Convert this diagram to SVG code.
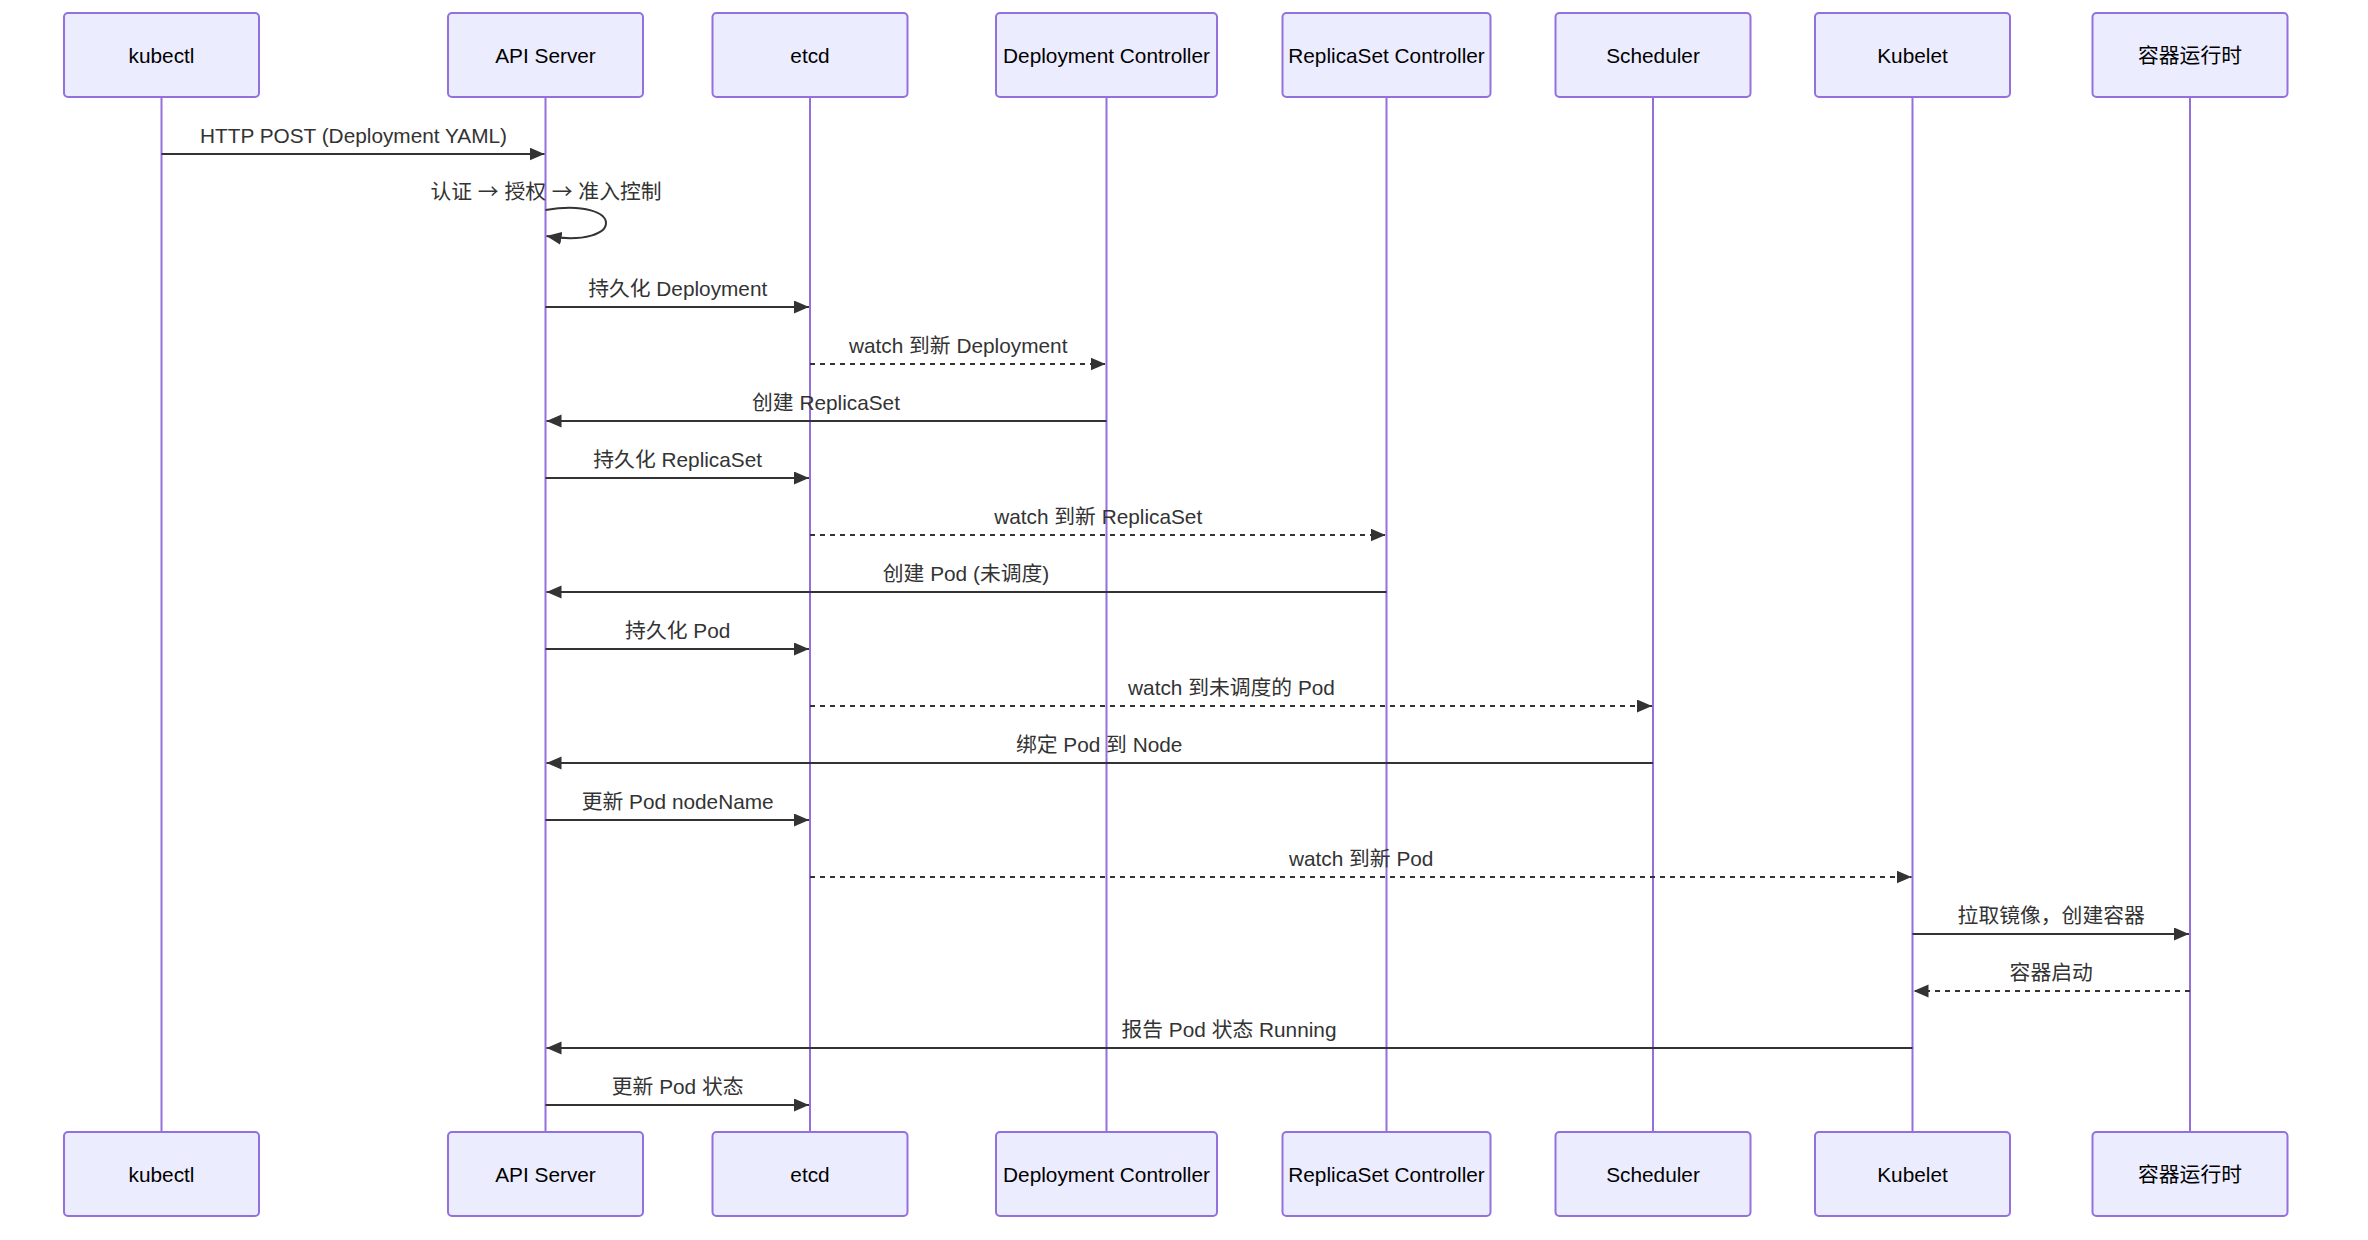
<svg xmlns="http://www.w3.org/2000/svg" width="2368" height="1240" viewBox="0 0 2368 1240">
<style>
.actor{fill:#ECECFF;stroke:#9370DB;stroke-width:2}
.atext{font-family:"Liberation Sans","Noto Sans CJK SC",sans-serif;font-size:20.8px;fill:#000;text-anchor:middle;dominant-baseline:central}
.life{stroke:#9370DB;stroke-width:2}
.msg{stroke:#333;stroke-width:2;fill:none;marker-end:url(#arrow)}
.dash{stroke-dasharray:5 5}
.mtext{font-family:"Liberation Sans","Noto Sans CJK SC",sans-serif;font-size:20.8px;fill:#333;text-anchor:middle}
.cjk{font-family:"Noto Sans CJK SC",sans-serif}
</style>
<defs>
<marker id="arrow" markerUnits="userSpaceOnUse" markerWidth="16" markerHeight="14" refX="15" refY="6.5" orient="auto">
<path d="M0,0 L15,6.5 L0,13 z" fill="#333"/>
</marker>
</defs>
<rect width="2368" height="1240" fill="#fff"/>
<g id="lifelines">
<line class="life" x1="161.5" y1="97" x2="161.5" y2="1132"/>
<line class="life" x1="545.5" y1="97" x2="545.5" y2="1132"/>
<line class="life" x1="810" y1="97" x2="810" y2="1132"/>
<line class="life" x1="1106.5" y1="97" x2="1106.5" y2="1132"/>
<line class="life" x1="1386.5" y1="97" x2="1386.5" y2="1132"/>
<line class="life" x1="1653" y1="97" x2="1653" y2="1132"/>
<line class="life" x1="1912.5" y1="97" x2="1912.5" y2="1132"/>
<line class="life" x1="2190" y1="97" x2="2190" y2="1132"/>
</g>
<g id="kubectl">
<rect class="actor" x="64" y="13" width="195" height="84" rx="4"/><text class="atext" x="161.5" y="55">kubectl</text>
<rect class="actor" x="64" y="1132" width="195" height="84" rx="4"/><text class="atext" x="161.5" y="1174">kubectl</text>
</g>
<g id="apiserver">
<rect class="actor" x="448" y="13" width="195" height="84" rx="4"/><text class="atext" x="545.5" y="55">API Server</text>
<rect class="actor" x="448" y="1132" width="195" height="84" rx="4"/><text class="atext" x="545.5" y="1174">API Server</text>
</g>
<g id="etcd">
<rect class="actor" x="712.5" y="13" width="195" height="84" rx="4"/><text class="atext" x="810" y="55">etcd</text>
<rect class="actor" x="712.5" y="1132" width="195" height="84" rx="4"/><text class="atext" x="810" y="1174">etcd</text>
</g>
<g id="deploymentcontroller">
<rect class="actor" x="996" y="13" width="221" height="84" rx="4"/><text class="atext" x="1106.5" y="55">Deployment Controller</text>
<rect class="actor" x="996" y="1132" width="221" height="84" rx="4"/><text class="atext" x="1106.5" y="1174">Deployment Controller</text>
</g>
<g id="replicasetcontroller">
<rect class="actor" x="1282.5" y="13" width="208" height="84" rx="4"/><text class="atext" x="1386.5" y="55">ReplicaSet Controller</text>
<rect class="actor" x="1282.5" y="1132" width="208" height="84" rx="4"/><text class="atext" x="1386.5" y="1174">ReplicaSet Controller</text>
</g>
<g id="scheduler">
<rect class="actor" x="1555.5" y="13" width="195" height="84" rx="4"/><text class="atext" x="1653" y="55">Scheduler</text>
<rect class="actor" x="1555.5" y="1132" width="195" height="84" rx="4"/><text class="atext" x="1653" y="1174">Scheduler</text>
</g>
<g id="kubelet">
<rect class="actor" x="1815" y="13" width="195" height="84" rx="4"/><text class="atext" x="1912.5" y="55">Kubelet</text>
<rect class="actor" x="1815" y="1132" width="195" height="84" rx="4"/><text class="atext" x="1912.5" y="1174">Kubelet</text>
</g>
<g id="runtime">
<rect class="actor" x="2092.5" y="13" width="195" height="84" rx="4"/><text class="atext" x="2190" y="55">容器运行时</text>
<rect class="actor" x="2092.5" y="1132" width="195" height="84" rx="4"/><text class="atext" x="2190" y="1174">容器运行时</text>
</g>
<g id="connectors">
<line class="msg" x1="161.5" y1="154" x2="544.5" y2="154"/>
<text class="mtext" x="353.5" y="143">HTTP POST (Deployment YAML)</text>
<path class="msg" d="M545.5,210 C626,197 626,249 546.5,236"/>
<text class="mtext" x="546" y="199">认证 <tspan class="cjk">→</tspan> 授权 <tspan class="cjk">→</tspan> 准入控制</text>
<line class="msg" x1="545.5" y1="307" x2="809" y2="307"/>
<text class="mtext" x="677.7" y="296">持久化 Deployment</text>
<line class="msg dash" x1="810" y1="364" x2="1105.5" y2="364"/>
<text class="mtext" x="958.2" y="353">watch 到新 Deployment</text>
<line class="msg" x1="1106.5" y1="421" x2="546.5" y2="421"/>
<text class="mtext" x="826" y="410">创建 ReplicaSet</text>
<line class="msg" x1="545.5" y1="478" x2="809" y2="478"/>
<text class="mtext" x="677.7" y="467">持久化 ReplicaSet</text>
<line class="msg dash" x1="810" y1="535" x2="1385.5" y2="535"/>
<text class="mtext" x="1098.2" y="524">watch 到新 ReplicaSet</text>
<line class="msg" x1="1386.5" y1="592" x2="546.5" y2="592"/>
<text class="mtext" x="966" y="581">创建 Pod (未调度)</text>
<line class="msg" x1="545.5" y1="649" x2="809" y2="649"/>
<text class="mtext" x="677.7" y="638">持久化 Pod</text>
<line class="msg dash" x1="810" y1="706" x2="1652" y2="706"/>
<text class="mtext" x="1231.5" y="695">watch 到未调度的 Pod</text>
<line class="msg" x1="1653" y1="763" x2="546.5" y2="763"/>
<text class="mtext" x="1099.2" y="752">绑定 Pod 到 Node</text>
<line class="msg" x1="545.5" y1="820" x2="809" y2="820"/>
<text class="mtext" x="677.7" y="809">更新 Pod nodeName</text>
<line class="msg dash" x1="810" y1="877" x2="1911.5" y2="877"/>
<text class="mtext" x="1361.2" y="866">watch 到新 Pod</text>
<line class="msg" x1="1912.5" y1="934" x2="2189" y2="934"/>
<text class="mtext" x="2051.2" y="923">拉取镜像，创建容器</text>
<line class="msg dash" x1="2190" y1="991" x2="1913.5" y2="991"/>
<text class="mtext" x="2051.2" y="980">容器启动</text>
<line class="msg" x1="1912.5" y1="1048" x2="546.5" y2="1048"/>
<text class="mtext" x="1229" y="1037">报告 Pod 状态 Running</text>
<line class="msg" x1="545.5" y1="1105" x2="809" y2="1105"/>
<text class="mtext" x="677.7" y="1094">更新 Pod 状态</text>
</g>
</svg>
